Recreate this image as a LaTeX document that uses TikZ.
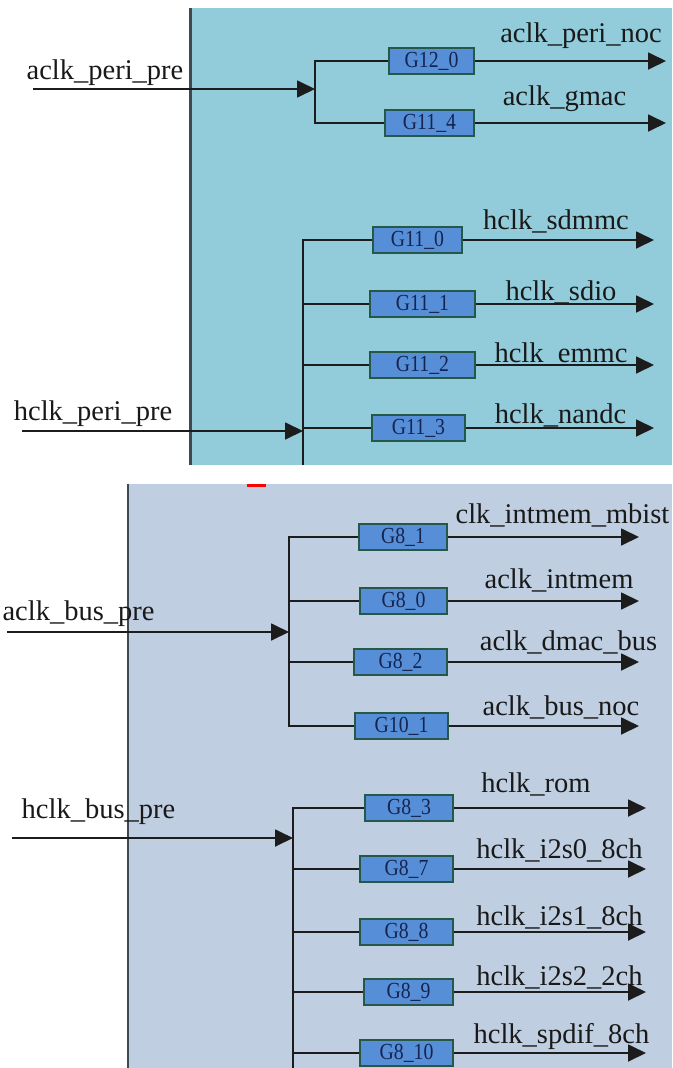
\documentclass[tikz,border=0pt]{standalone}
\usepackage{fontspec}
\setmainfont{Liberation Serif}
\newfontfamily\gatefont[FakeStretch=0.86]{Liberation Serif}
\usetikzlibrary{arrows.meta,positioning}

\definecolor{peribg}{RGB}{146,204,219}
\definecolor{busbg}{RGB}{191,207,225}
\definecolor{gatefill}{RGB}{86,143,216}
\definecolor{gateline}{RGB}{38,88,72}
\definecolor{gatetext}{RGB}{22,36,80}
\definecolor{wirecol}{RGB}{28,28,28}
\definecolor{edgecol}{RGB}{62,74,80}

\tikzset{
  >={Triangle[length=18pt,width=17pt]},
  wire/.style={draw=wirecol, line width=1.8pt},
  gate/.style={draw=gateline, line width=1.4pt, fill=gatefill, text=gatetext,
    minimum height=26pt, inner sep=0pt, font=\gatefont\fontsize{23}{23}\selectfont},
  clklabel/.style={anchor=base, inner sep=0pt, text=black!90,
    font=\fontsize{28.5}{30}\selectfont},
}

\begin{document}
\begin{tikzpicture}[x=1pt,y=-1pt]
\useasboundingbox (0,0) rectangle (672,1068);

% peri panel
\begin{scope}
  \fill[peribg] (190,8) rectangle (672,465);
  \draw[edgecol, line width=3pt] (190,8) -- (190,465);

  % aclk_peri_pre
  \coordinate (aperi-in) at (33,89);
  \coordinate (aperi-tap) at (315,89);
  \node[clklabel] (aperi-pre) at (105,79) {aclk\_peri\_pre};
  \node[gate, minimum width=85pt] (g12-0) at (431.5,61) {G12\_0};
  \node[gate, minimum width=89pt] (g11-4) at (429.5,123) {G11\_4};
  \draw[wire] (g12-0.west) -| (aperi-tap) |- (g11-4.west);
  \draw[wire,->] (aperi-in) -- (aperi-tap);
  \coordinate (peri-noc) at (666,61);
  \coordinate (gmac) at (666,123);
  \draw[wire,->] (g12-0.east) -- (peri-noc);
  \draw[wire,->] (g11-4.east) -- (gmac);
  \node[clklabel] (peri-noc-lbl) at (581,42) {aclk\_peri\_noc};
  \node[clklabel] (gmac-lbl) at (564.5,105) {aclk\_gmac};

  % hclk_peri_pre
  \coordinate (hperi-in) at (22,431);
  \coordinate (hperi-end) at (303,465);
  \node[clklabel] (hperi-pre) at (93,420) {hclk\_peri\_pre};
  \node[gate, minimum width=89pt] (g11-0) at (417.5,240) {G11\_0};
  \node[gate, minimum width=105pt] (g11-1) at (422.5,304) {G11\_1};
  \node[gate, minimum width=105pt] (g11-2) at (422.5,365) {G11\_2};
  \node[gate, minimum width=93pt] (g11-3) at (418.5,428) {G11\_3};
  \draw[wire] (g11-0.west) -| (hperi-end);
  \draw[wire] (g11-1.west) -- (g11-1.west -| hperi-end);
  \draw[wire] (g11-2.west) -- (g11-2.west -| hperi-end);
  \draw[wire] (g11-3.west) -- (g11-3.west -| hperi-end);
  \draw[wire,->] (hperi-in) -- (hperi-in -| hperi-end);
  \coordinate (sdmmc) at (654,240);
  \coordinate (sdio) at (654,304);
  \coordinate (emmc) at (654,365);
  \coordinate (nandc) at (654,428);
  \draw[wire,->] (g11-0.east) -- (sdmmc);
  \draw[wire,->] (g11-1.east) -- (sdio);
  \draw[wire,->] (g11-2.east) -- (emmc);
  \draw[wire,->] (g11-3.east) -- (nandc);
  \node[clklabel] (sdmmc-lbl) at (556,229) {hclk\_sdmmc};
  \node[clklabel] (sdio-lbl) at (561,300) {hclk\_sdio};
  \node[clklabel] (emmc-lbl) at (561,362) {hclk\_emmc};
  \node[clklabel] (nandc-lbl) at (560.5,423) {hclk\_nandc};
\end{scope}

% bus panel
\begin{scope}
  \fill[busbg] (128,484) rectangle (672,1068);
  \draw[edgecol, line width=2.2pt] (128,484) -- (128,1068);
  \fill[red] (247,483.5) rectangle (266,486.5);

  % aclk_bus_pre
  \coordinate (abus-in) at (7,632);
  \coordinate (abus-tap) at (289,632);
  \node[clklabel] (abus-pre) at (78.5,620) {aclk\_bus\_pre};
  \node[gate, minimum width=88pt] (g8-1) at (403,537) {G8\_1};
  \node[gate, minimum width=87pt] (g8-0) at (403.5,601) {G8\_0};
  \node[gate, minimum width=93pt] (g8-2) at (400.5,662) {G8\_2};
  \node[gate, minimum width=93pt] (g10-1) at (401.5,726) {G10\_1};
  \draw[wire] (g8-1.west) -| (abus-tap) |- (g10-1.west);
  \draw[wire] (g8-0.west) -- (g8-0.west -| abus-tap);
  \draw[wire] (g8-2.west) -- (g8-2.west -| abus-tap);
  \draw[wire,->] (abus-in) -- (abus-tap);
  \coordinate (mbist) at (639,537);
  \coordinate (intmem) at (639,601);
  \coordinate (dmac) at (639,662);
  \coordinate (bus-noc) at (639,726);
  \draw[wire,->] (g8-1.east) -- (mbist);
  \draw[wire,->] (g8-0.east) -- (intmem);
  \draw[wire,->] (g8-2.east) -- (dmac);
  \draw[wire,->] (g10-1.east) -- (bus-noc);
  \node[clklabel] (mbist-lbl) at (562.5,523) {clk\_intmem\_mbist};
  \node[clklabel] (intmem-lbl) at (559,588) {aclk\_intmem};
  \node[clklabel] (dmac-lbl) at (568.5,650) {aclk\_dmac\_bus};
  \node[clklabel] (bus-noc-lbl) at (561,715) {aclk\_bus\_noc};

  % hclk_bus_pre
  \coordinate (hbus-in) at (12,838);
  \coordinate (hbus-end) at (293,1068);
  \node[clklabel] (hbus-pre) at (98.5,818) {hclk\_bus\_pre};
  \node[gate, minimum width=88pt] (g8-3) at (409,808) {G8\_3};
  \node[gate, minimum width=93pt] (g8-7) at (406.5,869) {G8\_7};
  \node[gate, minimum width=93pt] (g8-8) at (406.5,932) {G8\_8};
  \node[gate, minimum width=89pt] (g8-9) at (408.5,992) {G8\_9};
  \node[gate, minimum width=93pt] (g8-10) at (406.5,1053) {G8\_10};
  \draw[wire] (g8-3.west) -| (hbus-end);
  \draw[wire] (g8-7.west) -- (g8-7.west -| hbus-end);
  \draw[wire] (g8-8.west) -- (g8-8.west -| hbus-end);
  \draw[wire] (g8-9.west) -- (g8-9.west -| hbus-end);
  \draw[wire] (g8-10.west) -- (g8-10.west -| hbus-end);
  \draw[wire,->] (hbus-in) -- (hbus-in -| hbus-end);
  \coordinate (rom) at (646,808);
  \coordinate (i2s0) at (646,869);
  \coordinate (i2s1) at (646,932);
  \coordinate (i2s2) at (646,992);
  \coordinate (spdif) at (646,1053);
  \draw[wire,->] (g8-3.east) -- (rom);
  \draw[wire,->] (g8-7.east) -- (i2s0);
  \draw[wire,->] (g8-8.east) -- (i2s1);
  \draw[wire,->] (g8-9.east) -- (i2s2);
  \draw[wire,->] (g8-10.east) -- (spdif);
  \node[clklabel] (rom-lbl) at (536,792) {hclk\_rom};
  \node[clklabel] (i2s0-lbl) at (559.5,858) {hclk\_i2s0\_8ch};
  \node[clklabel] (i2s1-lbl) at (559.5,925) {hclk\_i2s1\_8ch};
  \node[clklabel] (i2s2-lbl) at (559.5,985) {hclk\_i2s2\_2ch};
  \node[clklabel] (spdif-lbl) at (561.5,1043) {hclk\_spdif\_8ch};
\end{scope}
\end{tikzpicture}
\end{document}
